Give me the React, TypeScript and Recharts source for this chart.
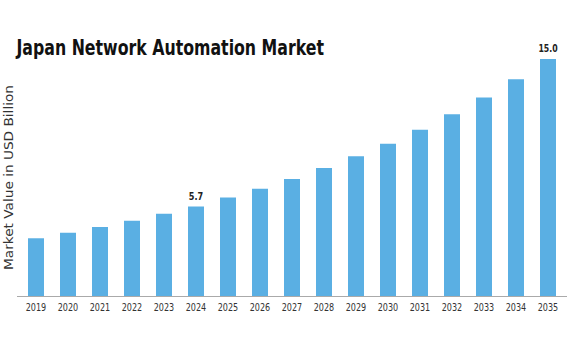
import React from "react";
import { BarChart, Bar, XAxis, YAxis, LabelList } from "recharts";

const years = ["2019","2020","2021","2022","2023","2024","2025","2026","2027","2028","2029","2030","2031","2032","2033","2034","2035"];
const values = [3.7, 4.05, 4.41, 4.81, 5.25, 5.7, 6.26, 6.82, 7.44, 8.13, 8.87, 9.66, 10.54, 11.51, 12.56, 13.72, 15.0];
const labelledYears = ["2024", "2035"];
const title = "Japan Network Automation Market";
const yTitle = "Market Value in USD Billion";

const data = years.map((y, i) => ({ year: y, value: values[i] }));

const renderLabel = (props: any) => {
  const { x, y, width, value, index } = props;
  if (!labelledYears.includes(years[index])) return <g />;
  const txt = Number(value).toFixed(1);
  return (
    <text x={Number(x) + Number(width) / 2} y={Number(y) - 7} textAnchor="middle" fontFamily="DejaVu Sans" fontWeight="bold" fontSize={10} fill="#222"
      textLength={txt.length * 4.8} lengthAdjust="spacingAndGlyphs">
      {txt}
    </text>
  );
};

const Tick = (props: any) => {
  const { x, y, payload } = props;
  return (
    <text x={x} y={Number(y) + 13.5} textAnchor="middle" fontFamily="DejaVu Sans" fontSize={10.5} fill="#333"
      textLength={20.5} lengthAdjust="spacingAndGlyphs">
      {payload.value}
    </text>
  );
};

export default function App() {
  return (
    <div style={{ position: "absolute", left: 0, top: 0, width: 574, height: 352, background: "#fff" }}>
      <svg width={574} height={352} style={{ position: "absolute", left: 0, top: 0 }}>
        <text x={16.5} y={54.5} fontFamily="DejaVu Sans" fontWeight="bold" fontSize={21} fill="#111"
          textLength={307.5} lengthAdjust="spacingAndGlyphs">{title}</text>
        <text x={12.8} y={177.5} transform="rotate(-90 12.8 177.5)" textAnchor="middle" fontFamily="DejaVu Sans" fontSize={11.5} fill="#333"
          textLength={185} lengthAdjust="spacingAndGlyphs">{yTitle}</text>
      </svg>
      <div style={{ position: "absolute", left: 0, top: 0 }}>
        <BarChart width={574} height={352} data={data} margin={{ top: 43, right: 10, bottom: 25, left: 20 }}>
          <YAxis hide type="number" domain={[0, 16]} />
          <XAxis dataKey="year" tickLine={false} axisLine={false} height={30} tickSize={0} tickMargin={0} interval={0} tick={<Tick />} />
          <Bar dataKey="value" fill="#5aafe3" barSize={16} isAnimationActive={false}>
            <LabelList dataKey="value" content={renderLabel} />
          </Bar>
        </BarChart>
      </div>
      <div style={{ position: "absolute", left: 17, top: 296, width: 550, height: 1, background: "#aaa" }} />
    </div>
  );
}
